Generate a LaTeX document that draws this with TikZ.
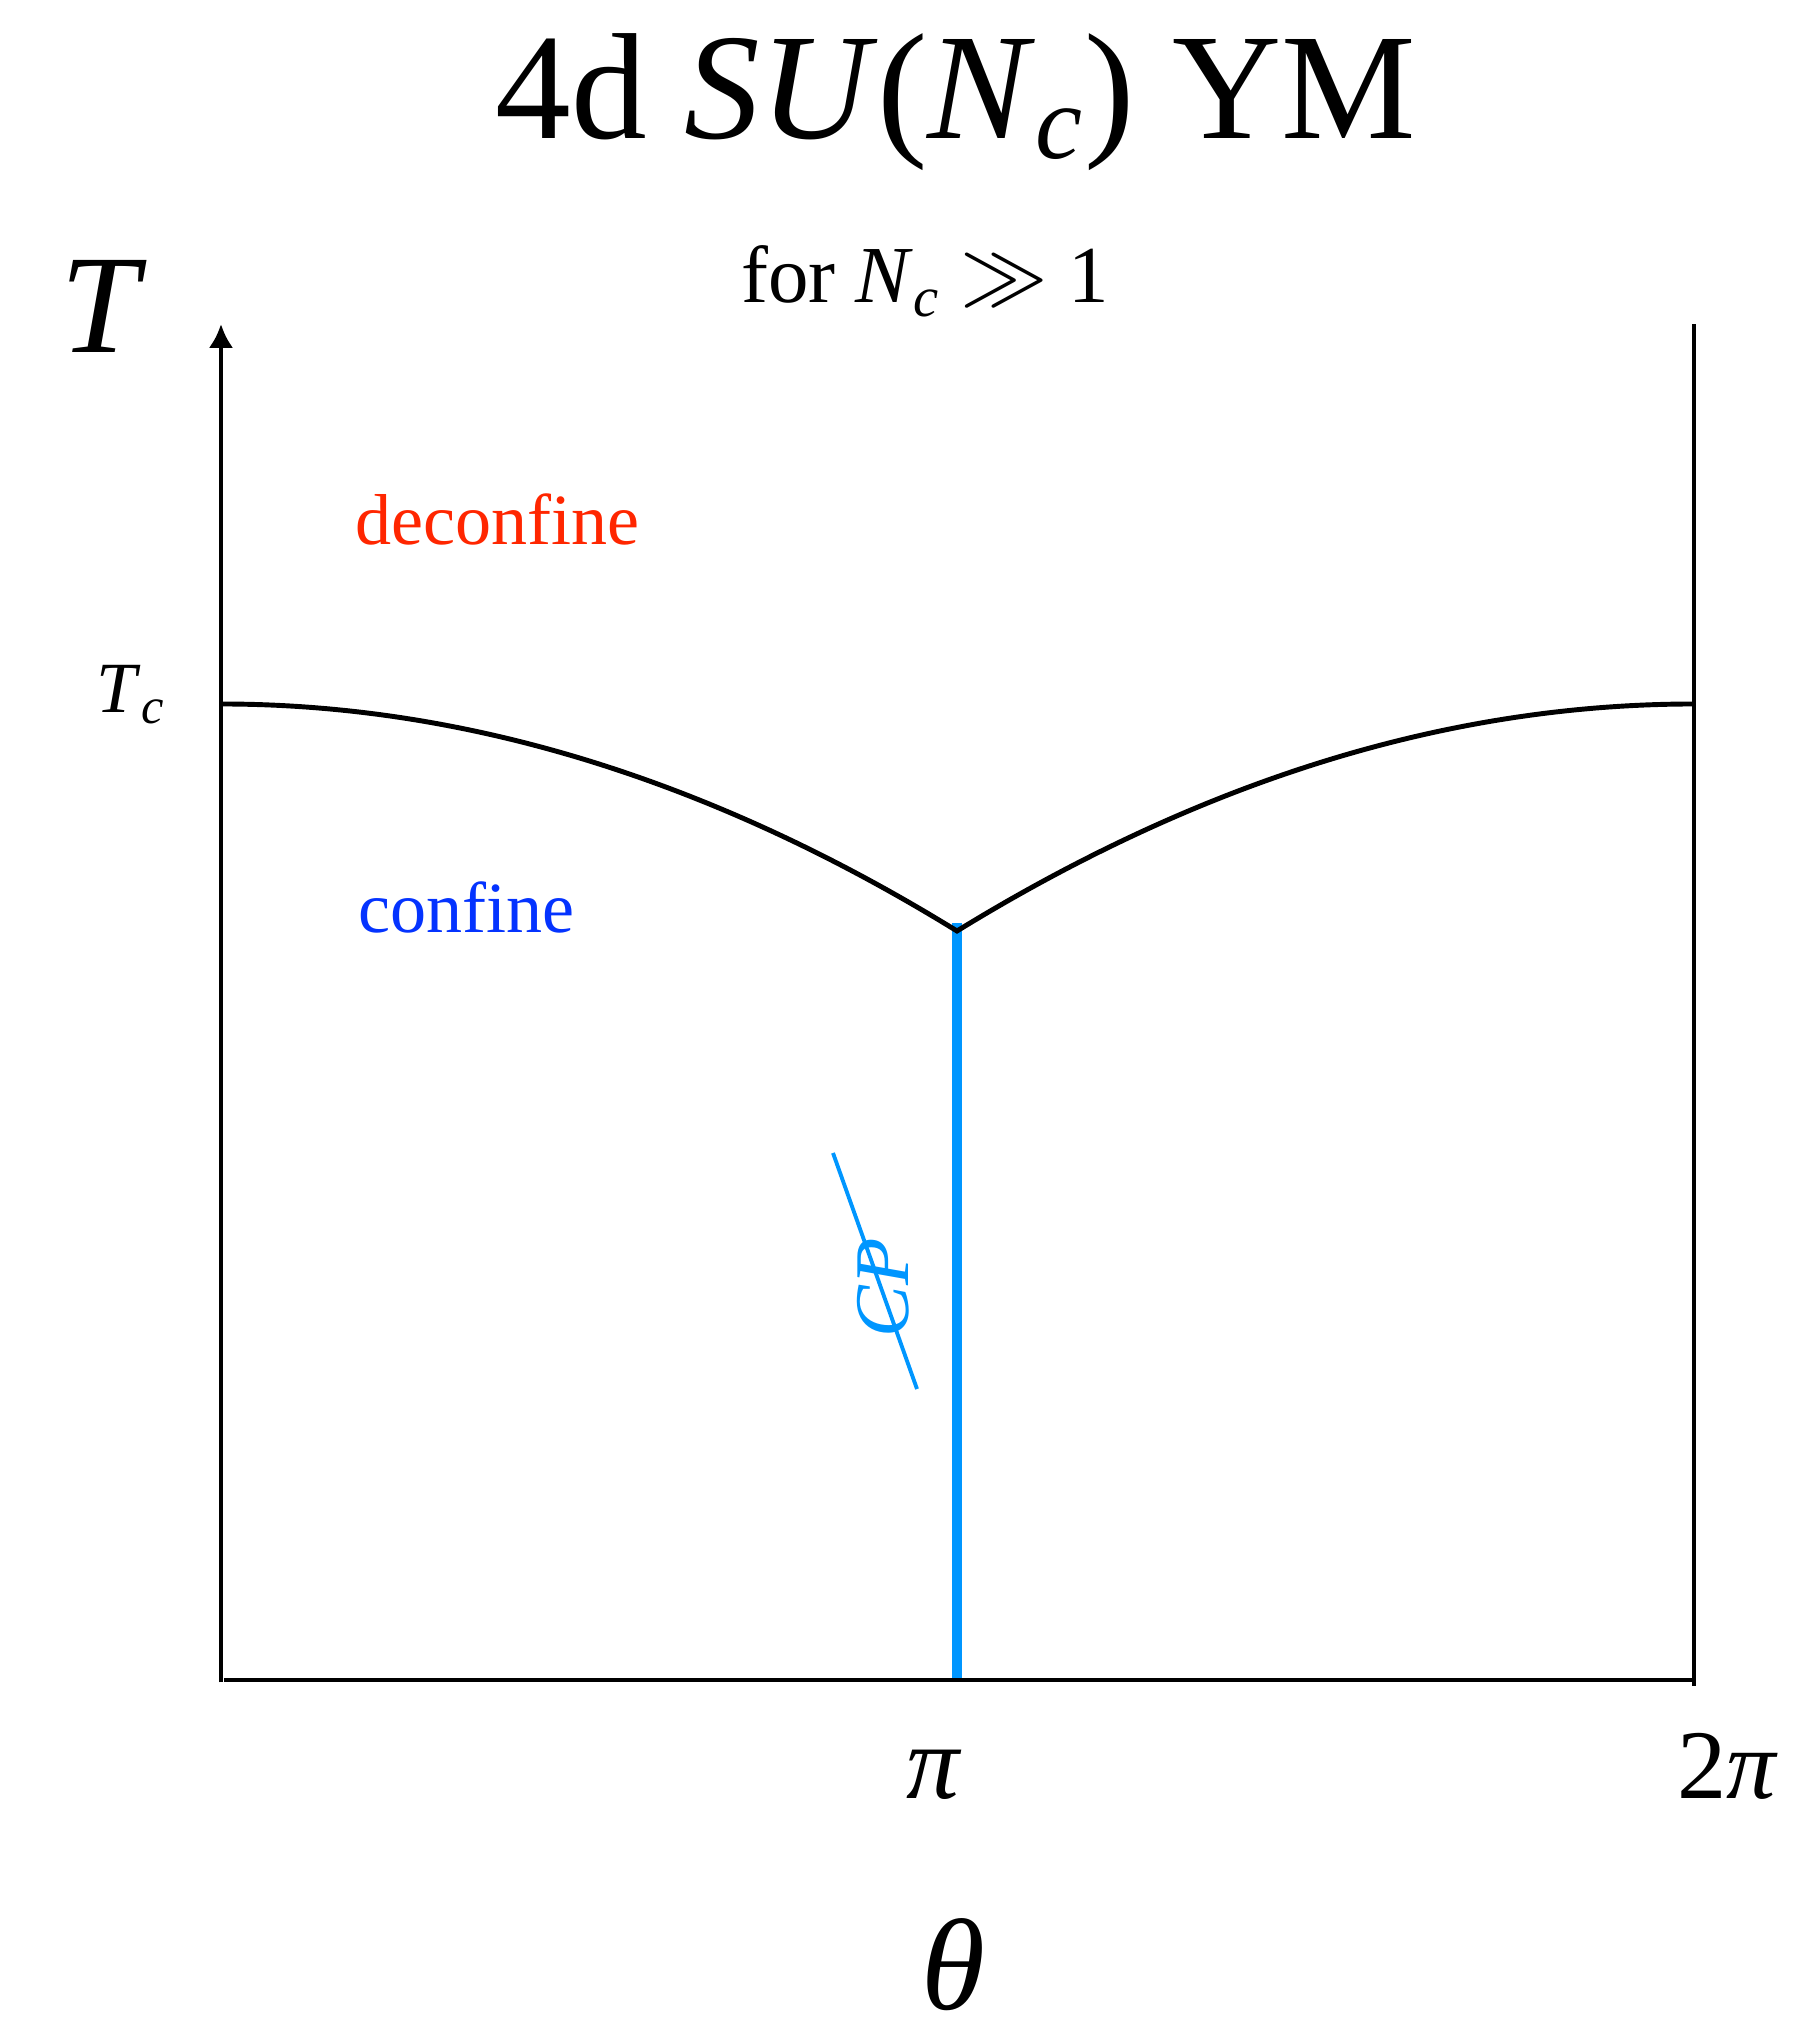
\documentclass[tikz,border=0pt]{standalone}
\usepackage{amsmath}
\usepackage{fontspec}
\setmainfont{Liberation Serif}
\usetikzlibrary{arrows.meta}
\definecolor{decol}{HTML}{FF2600}
\definecolor{concol}{HTML}{0433FF}
\definecolor{cpcol}{HTML}{0096FF}
\newcommand{\ivar}[1]{\textit{#1}}

\begin{document}
\begin{tikzpicture}[x=0.01cm,y=0.01cm,>={Latex[length=6.8pt,width=7pt]},
  axis/.style={line width=1.4pt},
  lbl/.style={inner sep=0pt}]
  \useasboundingbox (0,0) rectangle (1804,2039);
  % frame and axes
  \coordinate (O) at (221,359);
  \coordinate (Ttop) at (221,1715);
  \coordinate (Rbot) at (1694,353);
  \coordinate (Rtop) at (1694,1715);
  \coordinate (Raxis) at (1694,359);
  \coordinate (Laxis) at (224,359);
  \coordinate (tcL) at (221,1335);
  \coordinate (tcR) at (1694,1335);
  \coordinate (cusp) at (957,1108);
  \coordinate (blueTop) at (957,1116);
  \coordinate (blueBot) at (957,357);
  \coordinate (cpA) at (833,886);
  \coordinate (cpB) at (917,650);
  % CP-invariance line at theta = pi
  \draw[cpcol,line width=2.8pt] (blueTop) -- (blueBot);
  \draw[->,axis] ([yshift=-0.7pt]O) -- (Ttop);
  \draw[axis] (Laxis) -- (Raxis);
  \draw[axis] (Rbot) -- (Rtop);
  % transition line T_c(theta)
  \draw[axis] (tcL) .. controls (466,1335) and (712,1259) .. (cusp)
              .. controls (1203,1259) and (1448,1335) .. (tcR);
  % CP broken
  \draw[cpcol,line width=1.1pt] (cpA) -- (cpB);
  \node[lbl,cpcol,rotate=90,font=\fontsize{22}{24}\selectfont] (cp) at (883,751) {\ivar{CP}};
  % labels
  \node[lbl,anchor=base,font=\fontsize{43}{48}\selectfont] (title) at (956,1900)
    {4d \ivar{SU}(\ivar{N}$_{\ivar{c}}$) YM};
  \node[lbl,anchor=base,font=\fontsize{23}{26}\selectfont] (sub) at (925,1736)
    {for \ivar{N}$_{\ivar{c}}$ $\gg$ 1};
  \node[lbl,font=\fontsize{40}{44}\selectfont] (Tlab) at (104,1733) {\ivar{T}};
  \node[lbl,anchor=base west,font=\fontsize{20.5}{24}\selectfont] (Tc) at (96,1326) {\ivar{T}$_{\ivar{c}}$};
  \node[lbl,anchor=base west,decol,font=\fontsize{20.5}{24}\selectfont] (deconf) at (355,1494) {deconfine};
  \node[lbl,anchor=base west,concol,font=\fontsize{20.5}{24}\selectfont] (conf) at (358,1106) {confine};
  \node[lbl,anchor=base,font=\fontsize{30}{34}\selectfont] (pi) at (934,240) {\ivar{π}};
  \node[lbl,anchor=base,font=\fontsize{28}{32}\selectfont] (twopi) at (1728,240) {2\ivar{π}};
  \node[lbl,anchor=base,font=\fontsize{37}{42}\selectfont] (theta) at (953,30) {\ivar{θ}};
\end{tikzpicture}
\end{document}
